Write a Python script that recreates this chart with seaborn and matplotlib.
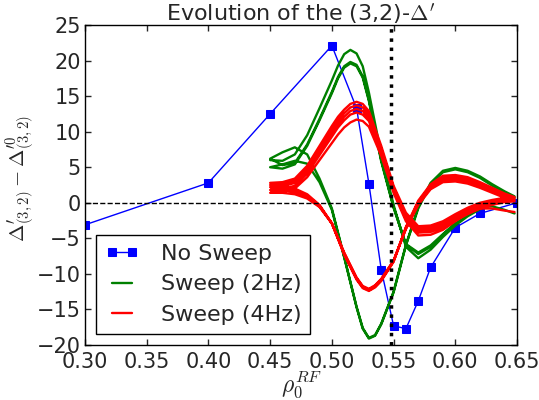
import matplotlib
matplotlib.use("Agg")
import matplotlib.pyplot as plt
import numpy as np
import pandas as pd
import seaborn as sns

# no sweep reference points
nosweep_x = [0.30, 0.40, 0.45, 0.50, 0.52, 0.53, 0.54, 0.55, 0.56, 0.57, 0.58, 0.60, 0.62, 0.65]
nosweep_y = [-3.1, 2.8, 12.5, 22.1, 13.3, 2.7, -9.4, -17.3, -17.7, -13.8, -9.1, -3.5, -1.5, 0.0]

# rho grid going up (forward) and coming back (backward) during a sweep
fwd_x = [0.450, 0.460, 0.470, 0.480, 0.490, 0.500, 0.505, 0.510, 0.515, 0.520, 0.525, 0.530,
         0.540, 0.550, 0.560, 0.570, 0.580, 0.590, 0.600, 0.610, 0.620, 0.630, 0.640, 0.648]
bwd_x = [0.648, 0.640, 0.630, 0.620, 0.610, 0.600, 0.590, 0.580, 0.570, 0.560, 0.550, 0.540,
         0.535, 0.530, 0.525, 0.520, 0.510, 0.500, 0.490, 0.480, 0.470, 0.460, 0.450]

# sweep 2Hz
g_f1 = [6.0, 5.9, 6.8, 9.5, 13.3, 17.2, 19.3, 20.9, 21.5, 21.0, 19.2, 15.5,
        6.8, -0.3, -6.2, -7.8, -6.6, -4.8, -3.2, -1.9, -0.9, -0.1, 0.5, 0.9]
g_b1 = [0.9, 1.6, 2.6, 3.7, 4.5, 4.9, 4.5, 2.8, -0.6, -5.9, -12.5, -17.0,
        -18.6, -19.0, -17.6, -14.6, -7.6, -0.8, 3.4, 6.8, 7.8, 7.1, 6.2]
g_f2 = [6.2, 5.3, 5.6, 8.2, 11.8, 15.6, 17.7, 19.2, 19.8, 19.4, 17.8, 14.5,
        6.0, -0.6, -5.8, -7.0, -6.0, -4.4, -2.9, -1.7, -0.8, -0.1, 0.4, 0.7]
g_b2 = [0.7, 1.4, 2.4, 3.5, 4.3, 4.7, 4.3, 2.6, -0.8, -6.0, -12.6, -17.1,
        -18.7, -19.1, -17.7, -14.7, -7.7, -1.0, 2.9, 5.5, 5.9, 5.4, 5.0]
g_f3 = [5.0, 4.8, 5.4, 8.0, 11.6, 15.4, 17.5, 19.0, 19.6, 19.2, 17.6, 14.3,
        5.8, -0.7, -5.9, -7.2, -6.2, -4.5, -2.9, -1.5, -0.6, -0.5, -1.0, -1.5]

# sweep 4Hz
r_f1 = [2.8, 2.9, 3.4, 5.2, 8.0, 10.8, 12.1, 13.1, 13.9, 14.2, 13.9, 12.9,
        8.0, 2.4, -1.4, -3.3, -3.2, -2.6, -1.6, -0.7, 0.0, 0.4, 0.7, 0.8]
r_b1 = [0.8, 1.3, 2.1, 2.9, 3.6, 3.9, 3.8, 2.6, 0.3, -3.4, -8.3, -11.0,
        -11.9, -12.4, -12.0, -10.8, -7.3, -2.9, -0.3, 1.2, 2.0, 2.4, 2.5]
r_f2 = [2.5, 2.6, 3.1, 4.9, 7.6, 10.3, 11.6, 12.6, 13.4, 13.7, 13.4, 12.4,
        7.6, 2.1, -1.7, -3.6, -3.5, -2.9, -1.9, -1.0, -0.3, 0.2, 0.5, 0.6]
r_b2 = [0.6, 1.1, 1.9, 2.7, 3.3, 3.6, 3.5, 2.4, 0.1, -3.5, -8.2, -10.9,
        -11.8, -12.3, -11.9, -10.7, -7.2, -2.9, -0.4, 1.0, 1.8, 2.1, 2.2]
r_f3 = [2.2, 2.3, 2.8, 4.5, 7.2, 9.8, 11.1, 12.1, 12.9, 13.2, 12.9, 11.9,
        7.3, 1.9, -2.0, -3.9, -3.8, -3.2, -2.2, -1.3, -0.5, 0.0, 0.3, 0.4]
r_b3 = [0.4, 0.9, 1.6, 2.4, 3.0, 3.3, 3.2, 2.1, -0.1, -3.6, -8.2, -10.8,
        -11.7, -12.2, -11.8, -10.6, -7.1, -2.9, -0.5, 0.8, 1.5, 1.8, 1.8]
r_f4 = [1.8, 1.9, 2.4, 4.1, 6.7, 9.3, 10.6, 11.6, 12.4, 12.7, 12.4, 11.5,
        7.0, 1.7, -2.3, -4.2, -4.1, -3.5, -2.5, -1.6, -0.8, -0.3, 0.1, 0.2]
r_b4 = [0.2, 0.7, 1.4, 2.1, 2.7, 3.0, 2.9, 1.9, -0.3, -3.7, -8.1, -10.7,
        -11.6, -12.1, -11.7, -10.5, -7.0, -2.9, -0.6, 0.6, 1.2, 1.4, 1.4]
r_f5 = [1.4, 1.5, 2.0, 3.6, 6.0, 8.4, 9.6, 10.6, 11.3, 11.7, 11.5, 10.7,
        6.6, 1.4, -2.6, -4.6, -4.5, -3.8, -2.6, -1.4, -0.8, -0.8, -1.1, -1.3]

rho_q = 0.548


def sweep_frame(branches):
    xs, ys = [], []
    for i, b in enumerate(branches):
        xs += fwd_x if i % 2 == 0 else bwd_x
        ys += b
    return pd.DataFrame({"rho": xs, "dp": ys})


sns.set_style("ticks")
plt.rcParams["mathtext.fontset"] = "cm"
plt.rcParams["font.family"] = ["DejaVu Sans"]

fig = plt.figure(figsize=(5.39, 4.0), dpi=100)
ax = fig.add_axes([0.1577, 0.1375, 0.8015, 0.8])

df_ns = pd.DataFrame({"rho": nosweep_x, "dp": nosweep_y})
df_2 = sweep_frame([g_f1, g_b1, g_f2, g_b2, g_f3])
df_4 = sweep_frame([r_f1, r_b1, r_f2, r_b2, r_f3, r_b3, r_f4, r_b4, r_f5])

sns.lineplot(data=df_ns, x="rho", y="dp", ax=ax, color="b", lw=1, marker="s",
             markersize=6, markeredgecolor="b", label="No Sweep")
sns.lineplot(data=df_2, x="rho", y="dp", ax=ax, sort=False, estimator=None,
             color="g", lw=1.7, label="Sweep (2Hz)")
sns.lineplot(data=df_4, x="rho", y="dp", ax=ax, sort=False, estimator=None,
             color="r", lw=1.7, label="Sweep (4Hz)")

ax.axhline(0, color="k", ls="--", lw=1)
ax.axvline(rho_q, color="k", ls=":", lw=2.5)

ax.set_xlim(0.30, 0.65)
ax.set_ylim(-20, 25)
ax.set_xticks(np.arange(0.30, 0.651, 0.05))
ax.set_xticklabels(["%.2f" % v for v in np.arange(0.30, 0.651, 0.05)], fontsize=15)
ax.set_yticks(range(-20, 26, 5))
ax.set_yticklabels([str(v).replace("-", "\u2212") for v in range(-20, 26, 5)], fontsize=15)
ax.tick_params(direction="in", top=True, right=True, length=4, width=1)
ax.tick_params(axis="x", pad=5)
ax.tick_params(axis="y", pad=3)
for s in ax.spines.values():
    s.set_linewidth(1)
    s.set_color("k")

ax.set_xlabel(r"$\rho_0^{RF}$", fontsize=17, labelpad=-2)
ax.set_ylabel(r"$\Delta^{\prime}_{(3,2)}-\Delta^{\prime 0}_{(3,2)}$", fontsize=15)
ax.yaxis.set_label_coords(-0.112, 0.52)
ax.set_title(r"Evolution of the (3,2)-$\Delta^{\prime}$", fontsize=16, pad=3)

leg = ax.legend(loc="lower left", fontsize=16, numpoints=2, handlelength=1.5,
                handletextpad=1.0, labelspacing=0.48, borderaxespad=0.5,
                fancybox=False, framealpha=1, edgecolor="k")
leg.get_frame().set_linewidth(1)

fig.savefig("out.png", dpi=100)
